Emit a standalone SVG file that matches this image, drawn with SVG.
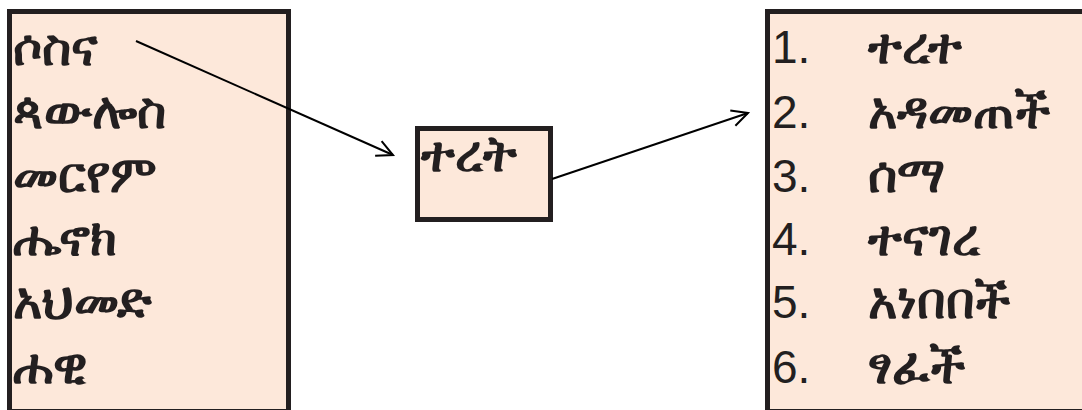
<svg xmlns="http://www.w3.org/2000/svg" width="1082" height="410" viewBox="0 0 1082 410">
<style>
.box{fill:#fde8da;stroke:#231f20;stroke-width:5}
.eth{font-family:"Noto Sans","DejaVu Sans",sans-serif;font-size:50px;font-weight:bold;fill:#231f20}
.num{font-family:"Liberation Sans",Arial,sans-serif;font-size:46px;fill:#231f20}
.conn{stroke:#000;stroke-width:2;fill:none}
</style>
<defs>
<marker id="arr" viewBox="0 0 20 20" refX="18" refY="10" markerWidth="20" markerHeight="20" markerUnits="userSpaceOnUse" orient="auto">
<path d="M2,2 L18,10 L2,18" fill="none" stroke="#000" stroke-width="2"/>
</marker>
</defs>
<g id="names">
<rect class="box" x="9.5" y="11.5" width="279" height="400"/>
<text class="eth" x="13" y="65">ሶስና</text>
<text class="eth" x="13" y="128">ጳውሎስ</text>
<text class="eth" x="13" y="192">መርየም</text>
<text class="eth" x="13" y="255">ሔኖክ</text>
<text class="eth" x="13" y="318">አህመድ</text>
<text class="eth" x="13" y="383">ሐዊ</text>
</g>
<g id="verb">
<rect class="box" x="417.5" y="128.5" width="133" height="91"/>
<text class="eth" x="421" y="171">ተረት</text>
</g>
<g id="verbs">
<rect class="box" x="767.5" y="11.5" width="330" height="400"/>
<text class="num" x="772" y="63">1.</text>
<text class="eth" x="868" y="63">ተረተ</text>
<text class="num" x="772" y="128">2.</text>
<text class="eth" x="868" y="128">አዳመጠች</text>
<text class="num" x="772" y="192">3.</text>
<text class="eth" x="868" y="192">ሰማ</text>
<text class="num" x="772" y="255">4.</text>
<text class="eth" x="868" y="255">ተናገረ</text>
<text class="num" x="772" y="318">5.</text>
<text class="eth" x="868" y="318">አነበበች</text>
<text class="num" x="772" y="383">6.</text>
<text class="eth" x="868" y="383">ፃፈች</text>
</g>
<g id="connectors">
<line class="conn" x1="136" y1="41" x2="393" y2="155" marker-end="url(#arr)"/>
<line class="conn" x1="552" y1="179" x2="748" y2="113" marker-end="url(#arr)"/>
</g>
</svg>
